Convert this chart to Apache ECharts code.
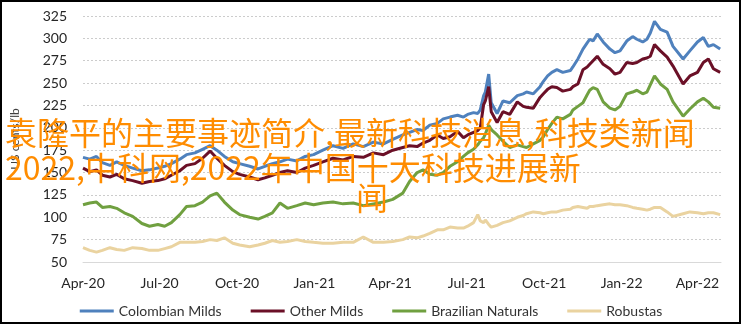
<!DOCTYPE html>
<html><head><meta charset="utf-8">
<script src="https://cdn.jsdelivr.net/npm/echarts@6/dist/echarts.min.js"></script>
<style>html,body{margin:0;padding:0;background:#fff}#c{width:742px;height:325px}</style>
</head><body><div id="c"></div>
<script>
const dates = ['2020-04-01','2020-04-09','2020-04-17','2020-04-24','2020-05-03','2020-05-11','2020-05-20','2020-05-30','2020-06-10','2020-06-19',
'2020-06-29','2020-07-07','2020-07-15','2020-07-25','2020-08-02','2020-08-12','2020-08-21','2020-08-30','2020-09-07','2020-09-16',
'2020-09-26','2020-10-04','2020-10-16','2020-10-26','2020-11-03','2020-11-12','2020-11-21','2020-11-30','2020-12-11','2020-12-21',
'2020-12-31','2021-01-11','2021-01-23','2021-02-04','2021-02-16','2021-02-28','2021-03-12','2021-03-24','2021-04-04','2021-04-16',
'2021-04-24','2021-05-03','2021-05-10','2021-05-18','2021-05-27','2021-06-03','2021-06-11','2021-06-20','2021-06-27','2021-07-02',
'2021-07-09','2021-07-14','2021-07-17','2021-07-21','2021-07-23','2021-07-27','2021-07-30','2021-08-06','2021-08-13','2021-08-21',
'2021-08-30','2021-09-06','2021-09-10','2021-09-18','2021-09-26','2021-09-30','2021-10-05','2021-10-10','2021-10-16','2021-10-23',
'2021-11-01','2021-11-04','2021-11-10','2021-11-16','2021-11-21','2021-11-24','2021-11-28','2021-12-03','2021-12-10','2021-12-18',
'2021-12-24','2021-12-30','2022-01-07','2022-01-14','2022-01-19','2022-01-26','2022-01-31','2022-02-04','2022-02-09','2022-02-16',
'2022-02-24','2022-03-03','2022-03-15','2022-03-23','2022-04-01','2022-04-08','2022-04-14','2022-04-20','2022-04-28'];

const colombianMilds = [167,165,168,161,158,162,158,155,152,153,
155,157,160,165,170,172,176,180,175,168,
162,160,157,154,157,160,162,165,163,168,
170,175,180,177,182,179,184,182,187,192,
195,198,197,203,205,210,212,214,212,215,
217,216,220,236,240,260,228,216,230,228,
236,238,240,238,246,252,258,262,265,262,
264,268,277,288,295,299,297,305,296,288,
284,286,297,302,299,296,299,306,319,310,
307,291,277,286,296,301,291,293,288];

const otherMilds = [155,151,153,147,145,148,143,141,138,140,
141,143,147,152,158,160,166,174,166,158,
151,148,145,142,144,147,150,152,150,155,
158,162,166,164,168,167,172,170,175,178,
180,179,183,186,192,188,190,196,189,192,
195,197,200,226,230,246,218,206,218,215,
229,224,223,222,234,238,243,246,245,241,
243,246,249,265,268,271,275,280,271,266,
260,262,273,272,273,277,278,280,293,286,
279,269,249,258,262,273,277,266,262];

const brazilianNaturals = [114,116,117,111,112,110,105,101,93,90,
92,90,94,103,112,113,117,124,127,117,
108,103,100,98,101,105,116,110,113,116,
114,116,117,115,116,113,115,117,120,127,
140,150,153,148,147,150,157,162,168,172,
176,181,185,189,193,203,198,192,185,178,
181,179,178,182,186,190,198,205,212,210,
215,220,224,228,237,242,245,243,229,222,
220,224,238,240,242,238,240,248,258,249,
243,229,213,221,229,233,229,223,222];

const robustas = [66,63,61,63,66,64,63,66,65,63,
63,65,67,72,72,72,73,75,74,77,
71,69,67,69,71,74,72,73,75,73,
72,71,71,72,72,78,72,72,73,75,
78,77,79,82,86,86,89,88,88,90,
94,103,96,94,97,92,89,91,94,96,
100,102,104,106,105,104,105,106,106,108,
109,111,112,111,110,112,112,113,114,115,
114,114,113,111,110,109,108,109,111,111,
106,101,104,106,105,104,105,105,103];

const seriesNames = ['Colombian Milds','Other Milds','Brazilian Naturals','Robustas'];
const tickDates = ['2020-04-01','2020-07-01','2020-10-01','2021-01-01','2021-04-01','2021-07-01','2021-10-01','2022-01-01','2022-04-01'];
const tickLabels = ['Apr-20','Jul-20','Oct-20','Jan-21','Apr-21','Jul-21','Oct-21','Jan-22','Apr-22'];
const xMin = '2020-04-01', xMax = '2022-04-29';
const yAxisName = 'US cents/lb';
const overlayLines = ['袁隆平的主要事迹简介,最新科技消息,科技类新闻','2022,中科网,2022年中国十大科技进展新','闻'];

// day index counted from xMin (UTC calendar arithmetic)
function dayIdx(s){var p=s.split('-');var q=xMin.split('-');
  return Math.round((Date.UTC(+p[0],+p[1]-1,+p[2]) - Date.UTC(+q[0],+q[1]-1,+q[2]))/86400000);}
const tickDays = tickDates.map(dayIdx);
function pairs(vals){return dates.map(function(d,i){return [dayIdx(d),vals[i]];});}

const colors = ['#4F81BD','#6B1027','#70A040','#EAD3A0'];
const allVals = [colombianMilds, otherMilds, brazilianNaturals, robustas];

const chart = echarts.init(document.getElementById('c'), null, {renderer:'canvas'});
chart.setOption({
  animation:false,
  backgroundColor:'#fff',
  textStyle:{fontFamily:'Lato'},
  grid:{left:83,right:21,top:16,bottom:63},
  xAxis:{
    type:'value', min:dayIdx(xMin), max:dayIdx(xMax),
    axisLine:{show:true,lineStyle:{color:'#d9d9d9',width:1}},
    axisTick:{show:false},
    splitLine:{show:false},
    axisLabel:{
      customValues: tickDays,
      formatter:function(v){
        var i = tickDays.indexOf(Math.round(v));
        return i>=0 ? tickLabels[i] : '';
      },
      color:'#262626', fontSize:14, margin:14, fontFamily:'Lato'
    }
  },
  yAxis:{
    type:'value', min:50, max:325, interval:25,
    name:yAxisName, nameLocation:'middle', nameRotate:90, nameGap:62,
    nameTextStyle:{fontSize:12,color:'#404040',fontFamily:'Lato'},
    axisLine:{show:false}, axisTick:{show:false},
    axisLabel:{color:'#262626',fontSize:14,margin:16,fontFamily:'Lato'},
    splitLine:{lineStyle:{color:'#cccccc',type:[2,2],width:1}}
  },
  legend:{
    data:seriesNames, left:'center', top:304, padding:0,
    icon:'rect', itemWidth:34, itemHeight:3, itemGap:29,
    textStyle:{fontSize:14,color:'#333',fontFamily:'Lato'}
  },
  series: seriesNames.map(function(n,i){
    return {name:n,type:'line',data:pairs(allVals[i]),showSymbol:false,symbol:'none',
      lineStyle:{color:colors[i],width:3},itemStyle:{color:colors[i]}};
  }),
  graphic:[
    {type:'rect',shape:{x:1,y:1,width:739,height:322},style:{fill:'none',stroke:'#000',lineWidth:2},z:200},
    {type:'text',left:5,top:117,z:100,style:{text:overlayLines[0],fill:'#FF8C00',font:'32px "Noto Sans CJK SC"'}},
    {type:'text',left:5,top:152,z:100,style:{text:overlayLines[1],fill:'#FF8C00',font:'32px "Noto Sans CJK SC"'}},
    {type:'text',left:356,top:182,z:100,style:{text:overlayLines[2],fill:'#FF8C00',font:'32px "Noto Sans CJK SC"'}}
  ]
});
</script></body></html>
